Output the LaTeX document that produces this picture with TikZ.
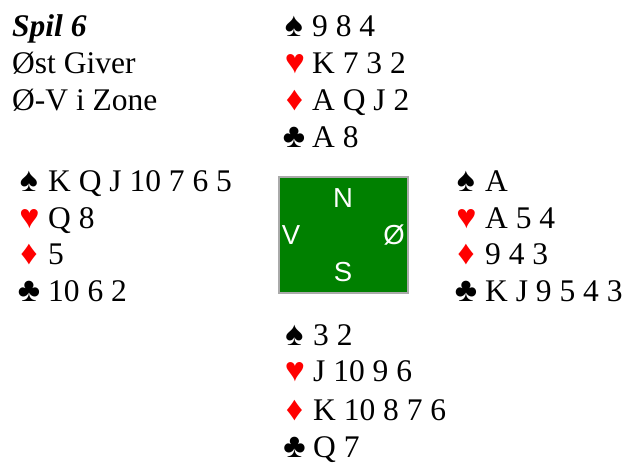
\documentclass[tikz,border=0pt]{standalone}
\usepackage{fontspec}
\setmainfont{Liberation Serif}
\newfontfamily\dirfont{Liberation Sans}
\definecolor{felt}{RGB}{0,128,0}
\definecolor{suitred}{RGB}{255,0,0}
\definecolor{rim}{RGB}{170,170,170}
\tikzset{
  handline/.style={anchor=base west, inner sep=0pt, font=\fontsize{31.5}{36}\selectfont},
  suit/.style={anchor=base, inner sep=0pt, font=\fontsize{34}{38}\selectfont},
  redsuit/.style={suit, text=suitred},
  dirlabel/.style={text=white, inner sep=0pt, font=\dirfont\fontsize{27.5}{30}\selectfont},
  table/.style={fill=felt, draw=rim, line width=2pt}
}
\begin{document}
\begin{tikzpicture}[x=1pt,y=-1pt]
\useasboundingbox (0,0) rectangle (627,463);
% title
\node[handline] (t1) at (12,36) {\textbf{\textit{Spil 6}}};
\node[handline] (t2) at (12,73) {Øst Giver};
\node[handline] (t3) at (12,110) {Ø-V i Zone};
% north
\node[suit] (ns) at (294,36) {\char"2660};
\node[redsuit] (nh) at (295,73) {\char"2665};
\node[redsuit] (nd) at (294.5,110) {\char"2666};
\node[suit] (nc) at (294,147) {\char"2663};
\node[handline] (n1) at (312,36) {9 8 4};
\node[handline] (n2) at (312,73) {K 7 3 2};
\node[handline] (n3) at (312,110) {A Q J 2};
\node[handline] (n4) at (312,147) {A 8};
% west
\node[suit] (ws) at (29,191) {\char"2660};
\node[redsuit] (wh) at (29.5,228) {\char"2665};
\node[redsuit] (wd) at (29,264) {\char"2666};
\node[suit] (wc) at (29,301) {\char"2663};
\node[handline] (w1) at (48,191) {K Q J 10 7 6 5};
\node[handline] (w2) at (48,228) {Q 8};
\node[handline] (w3) at (48,264) {5};
\node[handline] (w4) at (48,301) {10 6 2};
% east
\node[suit] (es) at (466,191) {\char"2660};
\node[redsuit] (eh) at (466.5,228) {\char"2665};
\node[redsuit] (ed) at (466,264) {\char"2666};
\node[suit] (ec) at (466,301) {\char"2663};
\node[handline] (e1) at (485,191) {A};
\node[handline] (e2) at (485,228) {A 5 4};
\node[handline] (e3) at (485,264) {9 4 3};
\node[handline] (e4) at (485,301) {K J 9 5 4 3};
% south
\node[suit] (ss) at (294.5,345) {\char"2660};
\node[redsuit] (sh) at (295,381) {\char"2665};
\node[redsuit] (sd) at (294.5,420) {\char"2666};
\node[suit] (sc) at (294.5,457) {\char"2663};
\node[handline] (s1) at (313,345) {3 2};
\node[handline] (s2) at (313,381) {J 10 9 6};
\node[handline] (s3) at (313,420) {K 10 8 7 6};
\node[handline] (s4) at (313,457) {Q 7};
% table
\draw[table] (279,177) rectangle (408,293);
\node[dirlabel] (dn) at (343,198) {N};
\node[dirlabel] (dv) at (291,235) {V};
\node[dirlabel] (de) at (394,235) {Ø};
\node[dirlabel] (ds) at (343,272) {S};
\end{tikzpicture}
\end{document}
